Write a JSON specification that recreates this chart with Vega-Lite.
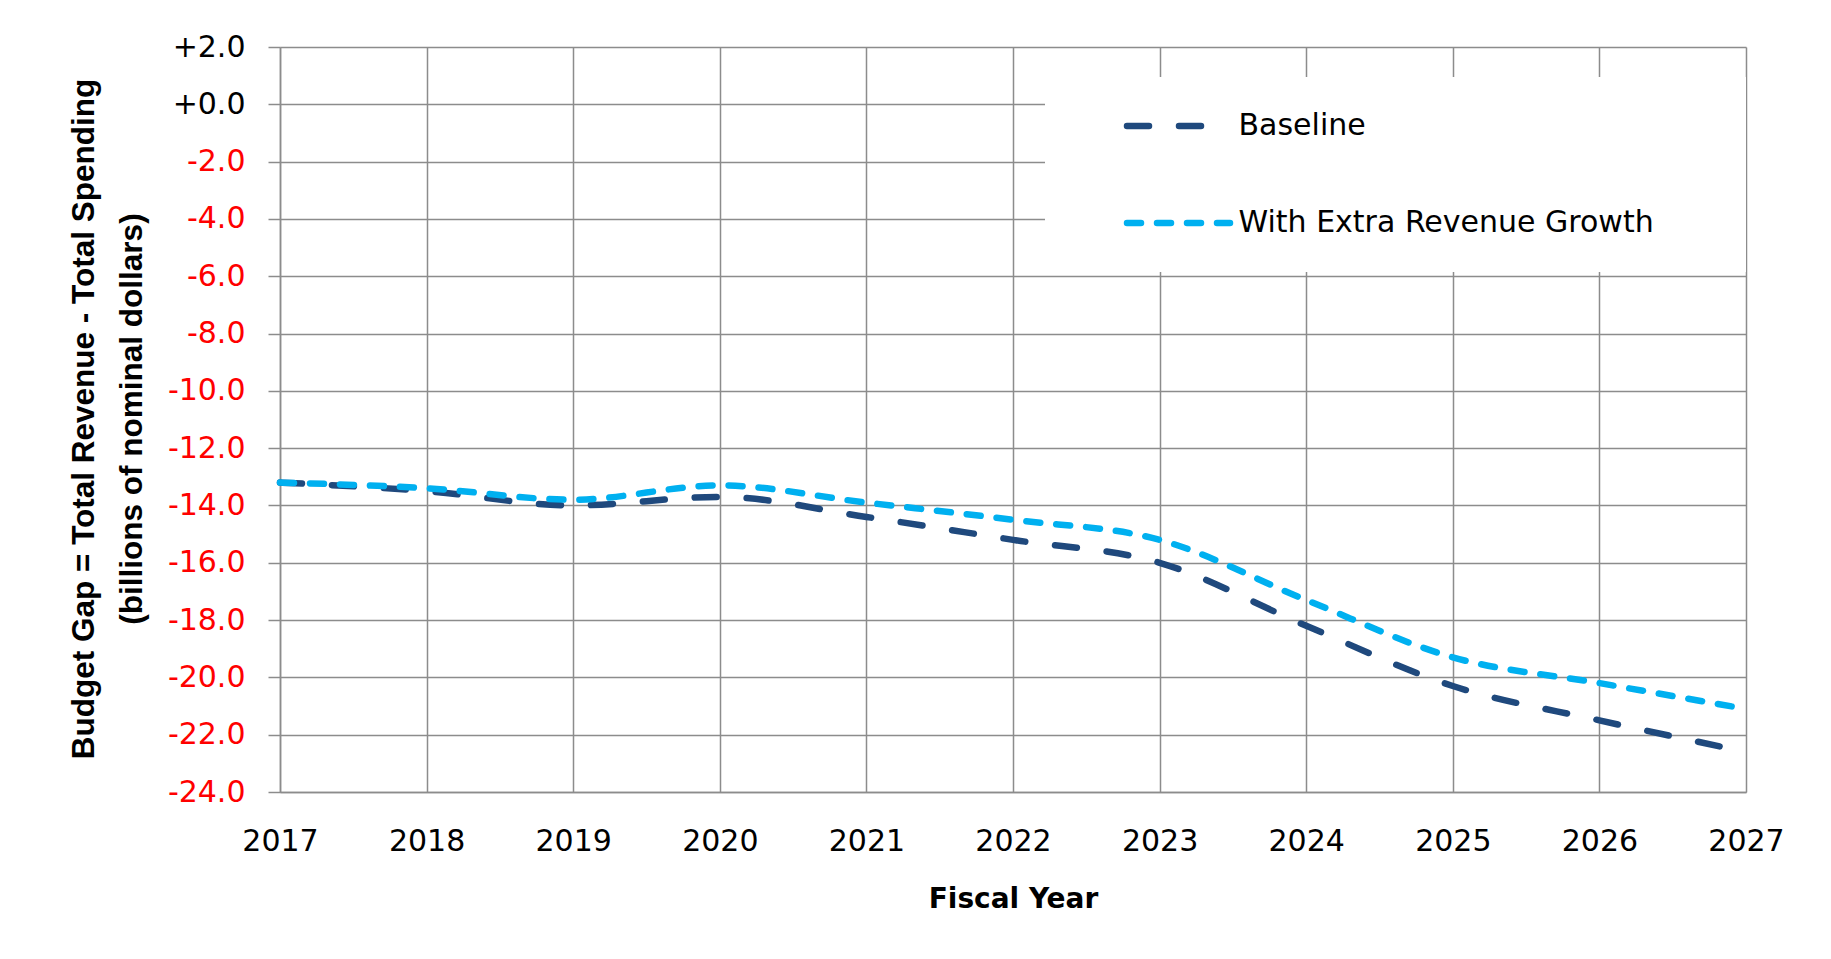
{
  "$schema": "https://vega.github.io/schema/vega-lite/v6.json",
  "width": 1466,
  "height": 745,
  "autosize": {"type": "none"},
  "padding": {"left": 280, "top": 47, "right": 85, "bottom": 167},
  "background": "white",
  "config": {
    "view": {"stroke": null},
    "font": "DejaVu Sans"
  },
  "data": {
    "values": [
      {"year": 2017, "gap": -13.2, "series": "Baseline"},
      {"year": 2018, "gap": -13.5, "series": "Baseline"},
      {"year": 2019, "gap": -14.0, "series": "Baseline"},
      {"year": 2020, "gap": -13.7, "series": "Baseline"},
      {"year": 2021, "gap": -14.4, "series": "Baseline"},
      {"year": 2022, "gap": -15.2, "series": "Baseline"},
      {"year": 2023, "gap": -16.0, "series": "Baseline"},
      {"year": 2024, "gap": -18.2, "series": "Baseline"},
      {"year": 2025, "gap": -20.3, "series": "Baseline"},
      {"year": 2026, "gap": -21.5, "series": "Baseline"},
      {"year": 2027, "gap": -22.6, "series": "Baseline"},
      {"year": 2017, "gap": -13.2, "series": "With Extra Revenue Growth"},
      {"year": 2018, "gap": -13.4, "series": "With Extra Revenue Growth"},
      {"year": 2019, "gap": -13.8, "series": "With Extra Revenue Growth"},
      {"year": 2020, "gap": -13.3, "series": "With Extra Revenue Growth"},
      {"year": 2021, "gap": -13.9, "series": "With Extra Revenue Growth"},
      {"year": 2022, "gap": -14.5, "series": "With Extra Revenue Growth"},
      {"year": 2023, "gap": -15.2, "series": "With Extra Revenue Growth"},
      {"year": 2024, "gap": -17.3, "series": "With Extra Revenue Growth"},
      {"year": 2025, "gap": -19.3, "series": "With Extra Revenue Growth"},
      {"year": 2026, "gap": -20.2, "series": "With Extra Revenue Growth"},
      {"year": 2027, "gap": -21.1, "series": "With Extra Revenue Growth"}
    ]
  },
  "mark": {"type": "line", "strokeWidth": 6.5, "strokeCap": "round", "interpolate": "monotone"},
  "encoding": {
    "x": {
      "field": "year",
      "type": "quantitative",
      "scale": {"domain": [2017, 2027], "nice": false, "zero": false},
      "axis": {
        "values": [2017, 2018, 2019, 2020, 2021, 2022, 2023, 2024, 2025, 2026, 2027],
        "format": "d",
        "labelFontSize": 30,
        "labelColor": "black",
        "labelBaseline": "alphabetic",
        "labelPadding": 58,
        "labelFlush": false,
        "labelOverlap": false,
        "ticks": false,
        "tickSize": 0,
        "domainColor": "#8c8c8c",
        "domainWidth": 1.5,
        "grid": true,
        "gridColor": "#8c8c8c",
        "gridWidth": 1.5,
        "title": "Fiscal Year",
        "titleFontSize": 28,
        "titleFontWeight": "bold",
        "titleColor": "black",
        "titleX": 733,
        "titleY": 115,
        "titleAlign": "center",
        "titleBaseline": "alphabetic"
      }
    },
    "y": {
      "field": "gap",
      "type": "quantitative",
      "scale": {"domain": [-24, 2], "nice": false, "zero": false},
      "axis": {
        "values": [-24, -22, -20, -18, -16, -14, -12, -10, -8, -6, -4, -2, 0, 2],
        "labelExpr": "(datum.value >= 0 ? '+' : '-') + format(abs(datum.value), '.1f')",
        "labelColor": {"condition": {"test": "datum.value < 0", "value": "#FF0000"}, "value": "black"},
        "labelFontSize": 30,
        "labelPadding": 23,
        "labelOverlap": false,
        "tickSize": 12,
        "tickColor": "#8c8c8c",
        "tickWidth": 1.5,
        "domainColor": "#8c8c8c",
        "domainWidth": 1.5,
        "grid": true,
        "gridColor": "#8c8c8c",
        "gridWidth": 1.5,
        "title": ["Budget Gap = Total Revenue - Total Spending", "(billions of nominal dollars)"],
        "titleFont": "Liberation Sans",
        "titleFontSize": 31.5,
        "titleFontWeight": "bold",
        "titleColor": "black",
        "titleAngle": -90,
        "titleX": -187,
        "titleY": 371.5,
        "titleAlign": "center",
        "titleBaseline": "alphabetic",
        "titleLineHeight": 48.5
      }
    },
    "color": {
      "field": "series",
      "type": "nominal",
      "scale": {"domain": ["Baseline", "With Extra Revenue Growth"], "range": ["#1F497D", "#00B0F0"]},
      "legend": {
        "title": null,
        "orient": "none",
        "legendX": 765,
        "legendY": 30,
        "fillColor": "white",
        "padding": 29,
        "clipHeight": 40,
        "rowPadding": 57,
        "symbolType": "stroke",
        "symbolSize": 10609,
        "symbolStrokeWidth": 6.5,
        "symbolOffset": 49.5,
        "labelOffset": 5,
        "labelFontSize": 30,
        "labelColor": "black",
        "labelLimit": 700,
        "encode": {
          "symbols": {"update": {"strokeCap": {"value": "round"}}},
          "entries": {"update": {"width": {"value": 643}, "fill": {"value": "white"}}}
        }
      }
    },
    "strokeDash": {
      "field": "series",
      "type": "nominal",
      "scale": {"domain": ["Baseline", "With Extra Revenue Growth"], "range": [[22, 30], [14, 16]]},
      "legend": null
    }
  }
}
